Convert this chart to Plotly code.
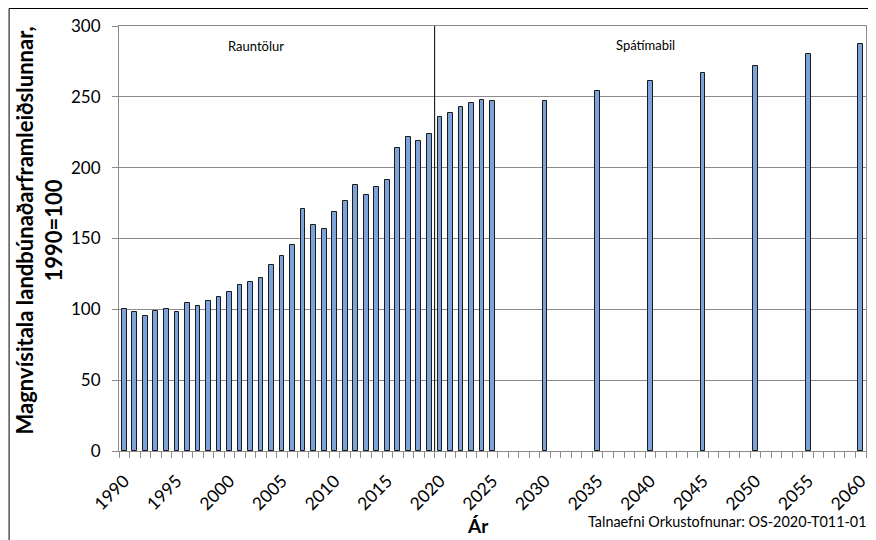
import plotly.graph_objects as go

# ---- data ----
years_hist = list(range(1990, 2026))
values_hist = [100, 97.9, 95.3, 98.8, 99.9, 98.4, 104.2, 102.6, 105.9, 108.5,
               112.0, 117.0, 119.1, 122.0, 131.0, 137.6, 145.4, 170.8, 159.5, 156.7,
               168.9, 176.7, 188.0, 180.7, 186.1, 191.5, 214.1, 221.3, 219.1, 223.8,
               235.5, 238.8, 242.6, 245.9, 247.5, 247.0]
years_proj = [2030, 2035, 2040, 2045, 2050, 2055, 2060]
values_proj = [247.1, 254.1, 261.0, 266.6, 271.5, 280.0, 287.5]
tick_years = list(range(1990, 2061, 5))
y_ticks = [0, 50, 100, 150, 200, 250, 300]

x_all = years_hist + years_proj
y_all = values_hist + values_proj

# page has an 8px body margin; work in page pixels and convert
OFF = 8
W, H = 876 - OFF, 540 - OFF
L, R, T, B = 119 - OFF, 870 - OFF, 26 - OFF, 451 - OFF


def px_x(p):
    return (p - OFF - L) / (R - L)


def px_y(p):
    return (B - (p - OFF)) / (B - T)


FONT = "Lato, 'Open Sans', sans-serif"

fig = go.Figure()
fig.add_trace(go.Bar(
    x=x_all, y=y_all, width=0.45,
    marker=dict(color="#7ca4da", line=dict(color="#1a1a1a", width=1)),
    showlegend=False,
))

fig.update_layout(
    width=W, height=H,
    margin=dict(l=L, r=W - R, t=T, b=H - B, pad=0),
    paper_bgcolor="white", plot_bgcolor="white",
    font=dict(family=FONT, color="#000000", size=16),
    bargap=0,
)

fig.update_xaxes(
    range=[1989.5, 2060.5],
    tickmode="array", tickvals=tick_years, ticktext=[str(y) for y in tick_years],
    tickangle=-45, tickfont=dict(size=17.5),
    ticks="outside", ticklen=12, tickcolor="rgba(0,0,0,0)",
    showgrid=False, zeroline=False,
    showline=True, linecolor="#8c8c8c", linewidth=1, mirror=True,
    minor=dict(tickmode="linear", tick0=1989.5, dtick=1, ticks="outside",
               ticklen=6, tickcolor="#8c8c8c", showgrid=False),
)
fig.update_yaxes(
    range=[0, 300], tickmode="array", tickvals=y_ticks,
    tickfont=dict(size=17),
    ticks="outside", ticklen=6, tickcolor="#8c8c8c", ticklabelstandoff=8,
    showgrid=True, gridcolor="#8c8c8c", gridwidth=1, zeroline=False,
    showline=True, linecolor="#8c8c8c", linewidth=1, mirror=True,
)

shapes = [
    dict(type="line", xref="x", yref="paper", x0=2019.5, x1=2019.5, y0=0, y1=1,
         line=dict(color="#000000", width=1)),
    dict(type="rect", xref="paper", yref="paper",
         x0=px_x(8.5), x1=px_x(900), y0=px_y(8.5), y1=px_y(580),
         line=dict(color="#000000", width=1), fillcolor="rgba(0,0,0,0)", layer="below"),
]
fig.update_layout(shapes=shapes)

annotations = [
    dict(text="Rauntölur", x=px_x(257), y=px_y(45.5), xref="paper", yref="paper",
         showarrow=False, font=dict(size=13), xanchor="center", yanchor="middle"),
    dict(text="Spátímabil", x=px_x(648), y=px_y(45), xref="paper", yref="paper",
         showarrow=False, font=dict(size=13), xanchor="center", yanchor="middle"),
    dict(text="Talnaefni Orkustofnunar: OS-2020-T011-01", x=px_x(873), y=px_y(521),
         xref="paper", yref="paper", showarrow=False, font=dict(size=14.4),
         xanchor="right", yanchor="middle"),
    dict(text="<b>Ár</b>", x=px_x(480), y=px_y(525), xref="paper", yref="paper",
         showarrow=False, font=dict(size=19), xanchor="center", yanchor="middle"),
    dict(text="<b>Magnvísitala landbúnaðarframleiðslunnar,<br>1990=100</b>",
         x=px_x(39), y=px_y(230), xref="paper", yref="paper", showarrow=False,
         textangle=-90, font=dict(size=22), xanchor="center", yanchor="middle"),
]
fig.update_layout(annotations=annotations)

fig.write_html("out.html")
